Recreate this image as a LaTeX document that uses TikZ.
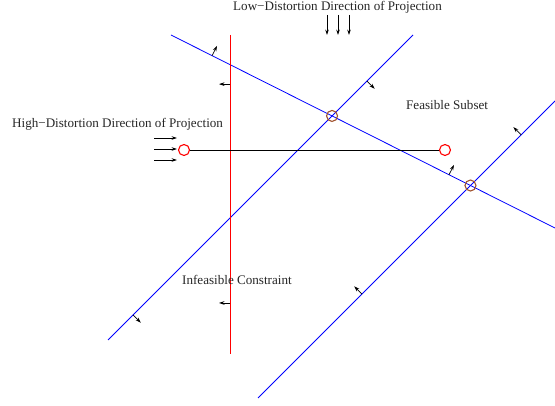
\documentclass[tikz,border=0pt]{standalone}
\usepackage{fontspec}
\setmainfont{Liberation Serif}
\usetikzlibrary{arrows.meta,calc}
\definecolor{hitbrown}{RGB}{160,82,45}

\begin{document}
\begin{tikzpicture}[
  x=1pt, y=-1pt,
  font=\fontsize{13.1}{15}\selectfont,
  >={Stealth[length=5.5pt,width=3.6pt]},
  cons/.style={blue, line width=0.8pt},
  infcons/.style={red, line width=1pt},
  ring/.style={circle, draw=red, line width=1.1pt, minimum size=11pt, inner sep=0pt},
  hit/.style={ring, draw=hitbrown},
  nrm/.style={->, line width=0.7pt, black},
  proj/.style={->, line width=0.7pt, black},
  lbl/.style={inner sep=0pt, text=black!85},
]
\useasboundingbox (0,0) rectangle (555,406);

%% ---------- constraint lines ----------
\coordinate (c1s) at (171,35);  \coordinate (c1e) at (555,228);
\coordinate (c2s) at (108,340); \coordinate (c2e) at (413,35);
\coordinate (c3s) at (258,398); \coordinate (c3e) at (555,101);
\coordinate (rs)  at (230,35);  \coordinate (re)  at (230,354);

\draw[cons] (c1s) -- (c1e);
\draw[cons] (c2s) -- (c2e);
\draw[cons] (c3s) -- (c3e);
\draw[infcons] (rs) -- (re);

%% vertices of the feasible subset
\node[hit] (v1) at (intersection of c1s--c1e and c2s--c2e) {};
\node[hit] (v2) at (intersection of c1s--c1e and c3s--c3e) {};

%% projections of the point
\node[ring] (pa) at (184,150) {};
\node[ring] (pb) at (445,150) {};
\draw[line width=0.8pt] (pa) -- (pb);

%% ---------- feasible-side normals ----------
\foreach \l/\p/\a [count=\i] in {c1/0.107/90, c1/0.724/90, c2/0.849/-90,
                                 c2/0.082/-90, c3/0.886/90, c3/0.350/90,
                                 r/0.154/-90, r/0.840/-90}{
  \coordinate (n\i) at ($(\l s)!\p!(\l e)$);
  \draw[nrm] (n\i) -- ($(n\i)!11pt!\a:(\l e)$);
}

%% ---------- projection directions ----------
\foreach \x [count=\i] in {327,338,349}{
  \coordinate (lo\i) at (\x,15);
  \draw[proj] (lo\i) -- ++(0,20);
}
\foreach \y [count=\i] in {138,149,160}{
  \coordinate (hi\i) at (154,\y);
  \draw[proj] (hi\i) -- ++(23,0);
}

%% ---------- labels ----------
\node[lbl] (lolbl) at (337.5,7) {Low−Distortion Direction of Projection};
\node[lbl, anchor=west] (hilbl) at (12,124) {High−Distortion Direction of Projection};
\node[lbl, anchor=west] (feas) at (406,105) {Feasible Subset};
\node[lbl, anchor=west] (infeas) at (182,280) {Infeasible Constraint};

\end{tikzpicture}
\end{document}
